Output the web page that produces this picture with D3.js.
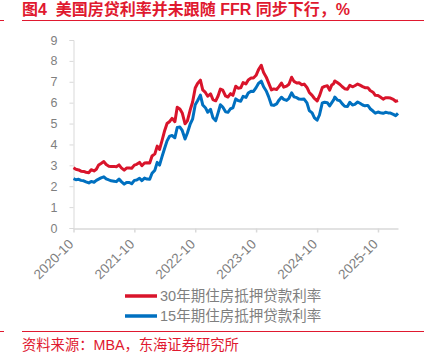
<!DOCTYPE html>
<html><head><meta charset="utf-8">
<script src="https://cdn.jsdelivr.net/npm/d3@7"></script>
<style>
body{margin:0;background:#fff;}
svg{display:block;font-family:"Liberation Sans","Noto Sans CJK SC",sans-serif;}
</style></head><body>
<svg id="chart" width="442" height="357"></svg>
<script>
const dates = [
"2020-10-01","2020-10-15","2020-11-01","2020-11-15","2020-12-01","2020-12-15",
"2021-01-01","2021-01-15","2021-02-01","2021-02-15","2021-03-01","2021-03-15","2021-04-01","2021-04-15","2021-05-01","2021-05-15","2021-06-01","2021-06-15","2021-07-01","2021-07-15","2021-08-01","2021-08-15","2021-09-01","2021-09-15","2021-10-01","2021-10-15","2021-11-01","2021-11-15","2021-12-01","2021-12-15",
"2022-01-01","2022-01-15","2022-02-01","2022-02-15","2022-03-01","2022-03-15","2022-04-01","2022-04-15","2022-05-01","2022-05-15","2022-06-01","2022-06-15","2022-07-01","2022-07-15","2022-08-01","2022-08-15","2022-09-01","2022-09-15","2022-10-01","2022-10-15","2022-11-01","2022-11-15","2022-12-01","2022-12-15",
"2023-01-01","2023-01-15","2023-02-01","2023-02-15","2023-03-01","2023-03-15","2023-04-01","2023-04-15","2023-05-01","2023-05-15","2023-06-01","2023-06-15","2023-07-01","2023-07-15","2023-08-01","2023-08-15","2023-09-01","2023-09-15","2023-10-01","2023-10-15","2023-11-01","2023-11-15","2023-12-01","2023-12-15",
"2024-01-01","2024-01-15","2024-02-01","2024-02-15","2024-03-01","2024-03-15","2024-04-01","2024-04-15","2024-05-01","2024-05-15","2024-06-01","2024-06-15","2024-07-01","2024-07-15","2024-08-01","2024-08-15","2024-09-01","2024-09-15","2024-10-01","2024-10-15","2024-11-01","2024-11-15","2024-12-01","2024-12-15","2024-12-28",
"2025-01-08","2025-01-15","2025-02-01","2025-02-15","2025-03-01","2025-03-15","2025-04-01","2025-04-15","2025-05-01","2025-05-15","2025-06-01","2025-06-15","2025-07-01","2025-07-15","2025-08-01","2025-08-15","2025-09-01","2025-09-15","2025-10-01","2025-10-15","2025-11-01","2025-11-15","2025-12-01","2025-12-15",
"2026-01-01","2026-01-15","2026-01-29"];
const rate30 = [
2.88,2.81,2.78,2.72,2.71,2.67,
2.65,2.79,2.73,2.81,3.02,3.09,3.18,3.04,2.96,2.94,2.95,2.93,3.02,2.88,2.77,2.87,2.87,2.86,3.01,3.05,3.14,2.98,3.11,3.12,
3.11,3.45,3.55,3.92,3.76,4.16,4.67,5.00,5.10,5.25,5.09,5.78,5.70,5.51,4.99,5.13,5.66,6.02,6.70,6.92,7.08,6.61,6.49,6.31,
6.42,6.15,6.09,6.32,6.65,6.60,6.32,6.27,6.43,6.35,6.79,6.69,6.71,6.96,6.90,7.09,7.18,7.18,7.31,7.57,7.79,7.44,7.22,6.95,
6.61,6.66,6.63,6.77,6.94,6.74,6.79,6.88,7.22,7.02,6.94,6.95,6.86,6.89,6.73,6.49,6.35,6.20,6.08,6.32,6.72,6.78,6.81,6.60,6.85,
6.91,7.04,6.95,6.87,6.76,6.67,6.64,6.83,6.76,6.81,6.89,6.84,6.77,6.72,6.72,6.58,6.50,6.35,6.34,6.27,6.17,6.24,6.23,6.22,
6.16,6.06,6.10];
const rate15 = [
2.36,2.31,2.33,2.28,2.26,2.21,
2.16,2.23,2.19,2.28,2.34,2.40,2.45,2.35,2.30,2.26,2.24,2.22,2.34,2.22,2.10,2.18,2.18,2.12,2.28,2.30,2.38,2.27,2.39,2.34,
2.33,2.62,2.77,3.14,3.01,3.39,3.83,4.17,4.40,4.43,4.32,4.81,4.83,4.67,4.26,4.55,4.98,5.21,5.90,6.09,6.36,5.89,5.76,5.54,
5.68,5.28,5.14,5.51,5.90,5.79,5.56,5.54,5.71,5.75,6.18,6.10,6.07,6.30,6.25,6.46,6.55,6.54,6.72,6.92,7.03,6.76,6.56,6.29,
5.89,5.87,5.94,6.12,6.26,6.16,6.11,6.21,6.47,6.28,6.24,6.17,6.16,6.17,5.99,5.62,5.51,5.27,5.16,5.41,5.99,6.02,6.00,5.84,6.00,
6.13,6.27,6.12,6.09,5.94,5.83,5.82,6.02,5.89,5.92,6.03,5.97,5.89,5.85,5.87,5.71,5.60,5.50,5.55,5.52,5.49,5.54,5.51,5.50,
5.44,5.38,5.49];
const xTickLabels = ["2020-10","2021-10","2022-10","2023-10","2024-10","2025-10"];
const yTicks = [0,1,2,3,4,5,6,7,8,9];
const seriesNames = ["30年期住房抵押贷款利率","15年期住房抵押贷款利率"];
const seriesColors = ["#d9142b","#0070c0"];
const titleText = "图4  美国房贷利率并未跟随 FFR 同步下行，%";
const sourceText = "资料来源：MBA，东海证券研究所";

const parse = d3.timeParse("%Y-%m-%d");
const parseM = d3.timeParse("%Y-%m");
const svg = d3.select("#chart");
const red = "#e0192f";
const gray = "#7f7f7f";
const axisGray = "#d9d9d9";

// title
svg.append("text").attr("x",22).attr("y",15).attr("fill",red)
  .attr("font-size",16).attr("font-weight","bold").style("white-space","pre").text(titleText);
svg.append("line").attr("x1",22).attr("x2",424).attr("y1",20.5).attr("y2",20.5).attr("stroke",red).attr("stroke-width",1);
svg.append("line").attr("x1",0).attr("x2",4).attr("y1",20.5).attr("y2",20.5).attr("stroke",red).attr("stroke-width",1);

const x = d3.scaleTime().domain([parse("2020-10-01"), parse("2026-01-29")]).range([73.5, 398]);
const y = d3.scaleLinear().domain([0,9]).range([228,40]);

// y axis
const yAxis = svg.append("g").attr("transform","translate(73.5,0)")
  .call(d3.axisLeft(y).tickValues(yTicks).tickSize(4).tickPadding(12).tickFormat(d3.format("d")));
yAxis.select(".domain").attr("stroke",axisGray);
yAxis.selectAll(".tick line").attr("stroke",axisGray);
yAxis.selectAll("text").attr("fill",gray).attr("font-size",12.5);

// x axis
const xAxis = svg.append("g").attr("transform","translate(0,228.5)")
  .call(d3.axisBottom(x).tickValues(xTickLabels.map(parseM)).tickSize(4).tickSizeOuter(0).tickFormat(d3.timeFormat("%Y-%m")));
xAxis.select(".domain").attr("stroke",axisGray).attr("stroke-width",1.5);
xAxis.selectAll(".tick line").attr("stroke",axisGray).attr("stroke-width",1.5);
xAxis.selectAll("text").attr("fill",gray).attr("font-size",13.5)
  .attr("x",0).attr("y",0).attr("dy","0.35em")
  .attr("text-anchor","end").attr("transform","translate(-3,13) rotate(-45)");

// lines
const data = [rate30, rate15].map(vals => dates.map((d,i)=>({date:parse(d), v:vals[i]})));
const line = d3.line().x(d=>x(d.date)).y(d=>y(d.v));
[1,0].forEach(k=>{
  svg.append("path").datum(data[k]).attr("d",line).attr("fill","none")
    .attr("stroke",seriesColors[k]).attr("stroke-width",3).attr("stroke-linejoin","round");
});

// legend
seriesNames.forEach((n,i)=>{
  const ly = 296 + i*20;
  svg.append("line").attr("x1",125).attr("x2",157).attr("y1",ly).attr("y2",ly)
    .attr("stroke",seriesColors[i]).attr("stroke-width",3.5);
  svg.append("text").attr("x",160).attr("y",ly+5).attr("fill",gray).attr("font-size",14.5).text(n);
});

// source
svg.append("line").attr("x1",22).attr("x2",424).attr("y1",331.5).attr("y2",331.5).attr("stroke",red).attr("stroke-width",1);
svg.append("line").attr("x1",0).attr("x2",4).attr("y1",331.5).attr("y2",331.5).attr("stroke",red).attr("stroke-width",1);
svg.append("text").attr("x",22).attr("y",350).attr("fill",red).attr("font-size",14.3).text(sourceText);
</script>
</body></html>
